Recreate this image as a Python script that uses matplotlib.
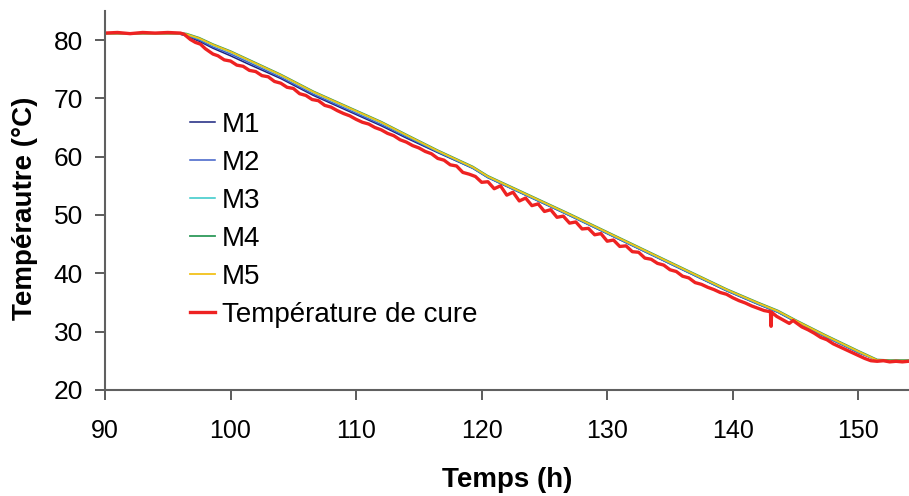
import matplotlib
matplotlib.use("Agg")
import matplotlib.pyplot as plt

plt.rcParams['font.family'] = ['Liberation Sans', 'DejaVu Sans']

# model curves (M1..M5)
t_mod = [90, 92, 94, 96, 96.5, 97.5, 98.6, 100, 101.3, 104, 106.6, 109.3, 112, 114,
         116.5, 119.3, 120.5, 121.8, 124.5, 127, 130, 133, 136, 139.5, 142, 143.6,
         145, 147.3, 150, 151.5, 152.5, 154]
m1 = [81.1, 81.0, 81.1, 81.0, 80.7, 79.8, 78.6, 77.3, 76.0, 73.4, 70.5, 67.9, 65.3, 63.2,
      60.7, 58.0, 56.4, 55.1, 52.4, 49.9, 46.8, 43.7, 40.6, 37.0, 34.7, 33.3,
      31.7, 29.2, 26.4, 25.1, 25.0, 25.0]
m2 = [81.1, 81.0, 81.1, 81.0, 80.8, 80.0, 78.8, 77.6, 76.3, 73.6, 70.7, 68.1, 65.5, 63.4,
      60.8, 58.0, 56.4, 55.1, 52.4, 49.9, 46.8, 43.7, 40.6, 37.0, 34.7, 33.3,
      31.7, 29.2, 26.4, 25.1, 25.0, 25.0]
m3 = [81.1, 81.1, 81.1, 81.1, 80.9, 80.2, 79.1, 77.9, 76.6, 73.9, 71.0, 68.4, 65.8, 63.6,
      60.9, 58.1, 56.5, 55.2, 52.5, 50.0, 46.9, 43.8, 40.7, 37.1, 34.8, 33.4,
      31.8, 29.3, 26.5, 25.1, 25.0, 25.0]
m4 = [81.2, 81.2, 81.2, 81.2, 81.1, 80.4, 79.3, 78.1, 76.8, 74.1, 71.2, 68.6, 66.0, 63.8,
      61.1, 58.3, 56.7, 55.4, 52.7, 50.2, 47.1, 44.0, 40.9, 37.3, 35.0, 33.6,
      32.0, 29.5, 26.7, 25.2, 25.1, 25.1]
m5 = [81.1, 81.1, 81.1, 81.1, 81.0, 80.3, 79.2, 78.0, 76.7, 74.0, 71.1, 68.5, 65.9, 63.7,
      61.0, 58.2, 56.6, 55.3, 52.6, 50.1, 47.0, 43.9, 40.8, 37.2, 34.9, 33.5,
      31.9, 29.4, 26.6, 25.1, 25.0, 25.0]

# measured cure temperature
t_cure = [90, 91, 92, 93, 94, 95, 96, 96.3, 96.8, 97.2, 97.6, 98.0, 98.6, 99.0, 99.5,
          100.0, 100.5, 101.0, 101.5, 102.0, 102.5, 103.0, 103.5, 104.0, 104.5, 105.0,
          105.5, 106.0, 106.5, 107.0, 107.5, 108.0, 108.5, 109.0, 109.5, 110.0, 110.5,
          111.0, 111.5, 112.0, 112.5, 113.0, 113.5, 114.0, 114.5, 115.0, 115.5, 116.0,
          116.5, 117.0, 117.5, 118.0, 118.5, 119.0, 119.5, 120.0, 120.5, 121.0, 121.5,
          122.0, 122.5, 123.0, 123.5, 124.0, 124.5, 125.0, 125.5, 126.0, 126.5, 127.0,
          127.5, 128.0, 128.5, 129.0, 129.5, 130.0, 130.5, 131.0, 131.5, 132.0, 132.5,
          133.0, 133.5, 134.0, 134.5, 135.0, 135.5, 136.0, 136.5, 137.0, 137.5, 138.0,
          138.5, 139.0, 139.5, 140.0, 140.5, 141.0, 141.5, 142.0, 142.5, 143.0, 143.05,
          143.1, 143.5, 144.0, 144.5, 144.8, 145.5, 146.0, 146.5, 147.0, 147.5, 148.0,
          148.5, 149.0, 149.5, 150.0, 150.5, 151.0, 151.5, 152.0, 152.5, 153.0, 153.5, 154.0]
temp_cure = [81.2, 81.3, 81.1, 81.3, 81.2, 81.3, 81.2, 81.0, 80.1, 79.6, 79.3, 78.5, 77.6,
             77.3, 76.6, 76.4, 75.7, 75.5, 74.8, 74.6, 73.9, 73.7, 72.9, 72.6, 71.9, 71.7,
             70.8, 70.5, 69.8, 69.6, 68.8, 68.5, 67.9, 67.4, 67.0, 66.4, 65.9, 65.6, 65.0,
             64.6, 64.0, 63.6, 62.9, 62.5, 61.9, 61.5, 60.9, 60.5, 59.7, 59.4, 58.6, 58.4,
             57.3, 57.0, 56.6, 55.6, 55.7, 54.5, 55.0, 53.4, 53.9, 52.4, 52.9, 51.6, 51.9,
             50.6, 50.9, 49.6, 49.8, 48.6, 48.8, 47.6, 47.7, 46.6, 46.8, 45.5, 45.7, 44.6,
             44.7, 43.7, 43.6, 42.6, 42.4, 41.7, 41.4, 40.6, 40.3, 39.5, 39.2, 38.4, 38.1,
             37.6, 37.2, 36.7, 36.4, 35.8, 35.3, 34.9, 34.4, 34.0, 33.6, 33.4, 30.9,
             33.3, 32.6, 32.0, 31.4, 31.9, 30.8, 30.3, 29.7, 29.0, 28.6, 27.9, 27.4,
             26.9, 26.4, 25.9, 25.4, 25.0, 24.9, 25.0, 24.8, 24.9, 24.8, 24.9]

fig = plt.figure(figsize=(9.09, 4.96), dpi=100)
ax = fig.add_axes([0.1155, 0.214, 0.884, 0.764])

ax.plot(t_mod, m1, color='#1a237e', linewidth=1.1, label='M1')
ax.plot(t_mod, m2, color='#3f5fc8', linewidth=1.1, label='M2')
ax.plot(t_mod, m3, color='#33c8c8', linewidth=1.1, label='M3')
ax.plot(t_mod, m4, color='#2e9a5a', linewidth=1.3, label='M4')
ax.plot(t_mod, m5, color='#f2c21a', linewidth=1.3, label='M5')
ax.plot(t_cure, temp_cure, color='#ee2222', linewidth=2.4, label='Température de cure')

ax.set_xlim(90, 154)
ax.set_ylim(20, 85)
ax.set_xticks([90, 100, 110, 120, 130, 140, 150])
ax.set_yticks([20, 30, 40, 50, 60, 70, 80])

for side in ['top', 'right']:
    ax.spines[side].set_visible(False)
for side in ['left', 'bottom']:
    ax.spines[side].set_color('#606060')
    ax.spines[side].set_linewidth(1.5)
ax.tick_params(axis='both', direction='out', length=7, width=1.2, color='#404040')
ax.tick_params(axis='y', labelsize=19, pad=9)
ax.tick_params(axis='x', labelsize=18, pad=14)

ax.set_xlabel('Temps (h)', fontsize=20, fontweight='bold', labelpad=17)
ax.set_ylabel('Tempérautre (°C)', fontsize=20, fontweight='bold', labelpad=11)
ax.yaxis.label.set_y(0.479)

ax.legend(loc='upper left', bbox_to_anchor=(190 / 909, 1 - 112 / 496),
          bbox_transform=fig.transFigure, frameon=False, fontsize=20,
          handlelength=0.9, handletextpad=0.25, labelspacing=0.43,
          borderaxespad=0, borderpad=0)

fig.savefig('out.png', dpi=100)
